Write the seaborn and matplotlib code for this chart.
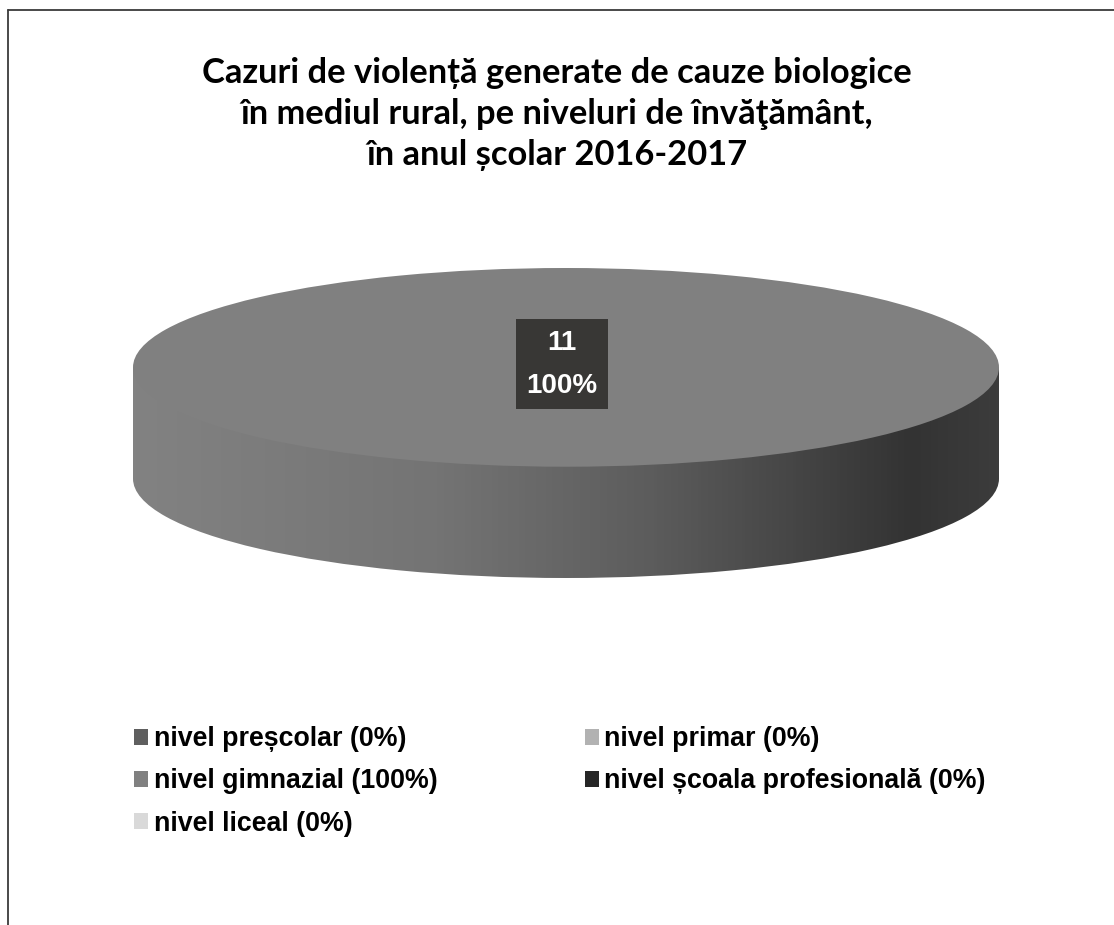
import numpy as np
import matplotlib
matplotlib.use("Agg")
import matplotlib.pyplot as plt
from matplotlib.colors import LinearSegmentedColormap
from matplotlib.patches import Rectangle
from matplotlib.lines import Line2D
import seaborn as sns

# data
categories = ["nivel preșcolar", "nivel primar", "nivel gimnazial",
              "nivel școala profesională", "nivel liceal"]
cases = [0, 0, 11, 0, 0]
title = ("Cazuri de violență generate de cauze biologice\n"
         "în mediul rural, pe niveluri de învăţământ,\n"
         "în anul școlar 2016-2017")

colors = ["#5f5f5f", "#b2b2b2", "#808080", "#262626", "#d9d9d9"]

sns.set_theme(style="white")
plt.rcParams["font.family"] = ["Liberation Sans", "DejaVu Sans"]
plt.rcParams["text.color"] = "black"

total = sum(cases)
pcts = [100 * c / total for c in cases]
labels = [f"{cat} ({p:.0f}%)" for cat, p in zip(categories, pcts)]

fig = plt.figure(figsize=(11.14, 9.25), dpi=100)
fig.patch.set_facecolor("white")

# frame lines (left + top)
fig.add_artist(Line2D([7.5 / 1114, 7.5 / 1114], [0, 1 - 10 / 925],
                      transform=fig.transFigure, color="#3a3a3a", lw=1.3))
fig.add_artist(Line2D([7.5 / 1114, 1], [1 - 10 / 925, 1 - 10 / 925],
                      transform=fig.transFigure, color="#3a3a3a", lw=1.3))

fig.text(0.5, 1 - 114 / 925, title, ha="center", va="center",
         fontsize=24.8, fontweight="bold", linespacing=1.34,
         family=["Lato", "DejaVu Sans"], color="black")

# pie axes (flattened so the pie becomes an ellipse)
depth = 1.12
ax = fig.add_axes([133 / 1114, 1 - 578 / 925, 866 / 1114, 310 / 925])

# bottom face, used only as clip shape for the side
bottom, _ = ax.pie(cases, radius=1, center=(0, -depth), startangle=90,
                   counterclock=False,
                   wedgeprops=dict(facecolor="none", linewidth=0))
side_rect = Rectangle((-1, -depth), 2, depth, facecolor="none",
                      linewidth=0, transform=ax.transData)
ax.add_patch(side_rect)

side_cmap = LinearSegmentedColormap.from_list(
    "side", [(0, "#828282"), (0.35, "#747474"), (0.6, "#5c5c5c"),
             (0.9, "#333333"), (1, "#3c3c3c")])
grad = np.linspace(0, 1, 256).reshape(1, -1)
for clip in [side_rect, bottom[cases.index(max(cases))]]:
    im = ax.imshow(grad, cmap=side_cmap, extent=[-1, 1, -depth - 1, 0],
                   aspect="auto", zorder=1)
    im.set_clip_path(clip)

# top face
wedges, _, autotexts = ax.pie(
    cases, colors=colors, radius=1, center=(0, 0), startangle=90,
    counterclock=False, pctdistance=0.0,
    autopct=lambda p: f"{p * total / 100:.0f}\n{p:.0f}%" if p > 0 else "",
    wedgeprops=dict(linewidth=0, zorder=2))
for w in wedges:
    w.set_zorder(2)
for t in autotexts:
    t.set_color("white")
    t.set_fontsize(20)
    t.set_fontweight("bold")
    t.set_linespacing(1.85)
    t.set_zorder(5)
    if t.get_text():
        t.set_position((-0.01, 0.03))
        t.set_bbox(dict(boxstyle="square,pad=0.38", facecolor="#383735",
                        edgecolor="none"))

ax.set_aspect("auto")
ax.set_xlim(-1, 1)
ax.set_ylim(-1 - depth, 1)
ax.axis("off")

# legend in row-major order with 2 columns
order = [0, 2, 4, 1, 3]
fig.legend([wedges[i] for i in order], [labels[i] for i in order],
           loc="upper left", bbox_to_anchor=(121 / 1114, 1 - 713 / 925),
           ncol=2, frameon=False,
           prop=dict(size=19.3, weight="bold"),
           handlelength=0.52, handleheight=0.52, handletextpad=0.2,
           columnspacing=5.5, labelspacing=0.6, borderpad=0)

fig.savefig("out.png", dpi=100, facecolor="white")
